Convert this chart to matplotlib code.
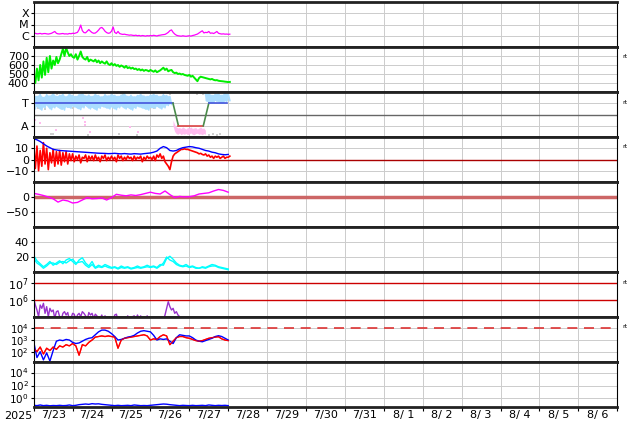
import matplotlib
matplotlib.use("Agg")
import matplotlib.pyplot as plt
import numpy as np

# time axis: days since 2025-07-23 00:00
day_labels = ["7/23", "7/24", "7/25", "7/26", "7/27", "7/28", "7/29", "7/30",
              "7/31", "8/ 1", "8/ 2", "8/ 3", "8/ 4", "8/ 5", "8/ 6"]

# X-ray flux, log10 W/m2, hourly
xray = [-5.80, -5.78, -5.83, -5.82, -5.79, -5.84, -5.81, -5.80, -5.83, -5.85, -5.82, -5.78,
        -5.70, -5.62, -5.78, -5.83, -5.84, -5.82, -5.80, -5.84, -5.83, -5.85, -5.80, -5.82,
        -5.78, -5.80, -5.75, -5.70, -5.45, -5.05, -5.55, -5.72, -5.74, -5.60, -5.45, -5.60,
        -5.72, -5.78, -5.76, -5.65, -5.50, -5.32, -5.26, -5.40, -5.60, -5.72, -5.78, -5.75,
        -5.60, -5.22, -5.70, -5.80, -5.62, -5.80, -5.85, -5.88, -5.86, -5.90, -5.92, -5.95,
        -5.93, -5.96, -5.98, -5.95, -6.00, -5.97, -6.02, -5.98, -6.00, -6.03, -5.99, -6.01,
        -5.98, -6.00, -5.96, -5.99, -6.02, -5.97, -5.95, -5.92, -5.90, -5.88, -5.80, -5.70,
        -5.55, -5.48, -5.70, -5.85, -5.95, -6.00, -6.02, -6.04, -6.00, -6.03, -6.05, -6.02,
        -6.00, -6.03, -5.98, -5.95, -5.90, -5.85, -5.75, -5.65, -5.56, -5.75, -5.70, -5.72,
        -5.62, -5.78, -5.75, -5.80, -5.72, -5.62, -5.78, -5.82, -5.85, -5.83, -5.86, -5.85,
        -5.87, -5.86]

# solar wind speed km/s, hourly
speed = [470, 400, 560, 430, 600, 460, 640, 490, 680, 520, 700, 560, 650, 600, 690, 620, 660,
         720, 780, 700, 790, 740, 700, 720, 690,
         680, 720, 660, 700, 750, 690, 670, 660, 690, 640, 660, 650,
         640, 660, 630, 650, 620, 640, 625, 615, 640, 610, 600, 620,
         595, 610, 590, 600, 580, 595, 585, 570, 590, 565, 575, 560,
         570, 555, 560, 545, 555, 540, 550, 535, 545, 540, 530, 545,
         535, 525, 540, 520, 530, 540, 555, 570, 545, 560, 530, 540,
         545, 520, 510, 515, 500, 505, 495, 500, 490, 485, 480, 490,
         470, 480, 460, 440, 420, 455, 470, 465, 460, 455, 450, 445,
         440, 445, 435, 430, 432, 425, 422, 420, 418, 415, 413, 410, 412]

# IMF sector: polarity line (T=+0.5, A=-0.5)
pol_t = [0.0, 3.58, 3.72, 4.36, 4.50, 4.97]
pol_v = [0.5, 0.5, -0.5, -0.5, 0.5, 0.5]
pol_colors = ["#4455dd", "#4a8a4a", "#dd4444", "#4a8a4a", "#4455dd"]
# toward-sector angle band, 2-hourly (nan = absent)
tow_hi = [0.85, 0.8, 0.9, 0.75, 0.88, 0.82, 0.95, 0.8, 0.85, 0.9, 0.78, 0.92,
          0.85, 0.8, 0.88, 0.95, 0.82, 0.86, 0.8, 0.9, 0.84, 0.78, 0.88, 0.82,
          0.9, 0.85, 0.8, 0.86, 0.92, 0.8, 0.85, 0.78, 0.84, 0.9, 0.82, 0.8,
          0.86, 0.9, 0.85, 0.8, 0.88, 0.84, 0.8] + [np.nan] * 10 + \
         [0.9, 0.95, 0.85, 0.9, 0.92, 0.85, 0.95, 0.9]
tow_lo = [0.25, 0.35, 0.2, 0.3, 0.4, 0.22, 0.3, 0.35, 0.25, 0.2, 0.32, 0.28,
          0.35, 0.3, 0.22, 0.3, 0.38, 0.25, 0.3, 0.2, 0.28, 0.35, 0.3, 0.25,
          0.32, 0.22, 0.3, 0.36, 0.25, 0.3, 0.2, 0.28, 0.35, 0.3, 0.25, 0.2,
          0.3, 0.28, 0.35, 0.25, 0.3, 0.4, 0.45] + [np.nan] * 10 + \
         [0.6, 0.55, 0.5, 0.6, 0.55, 0.5, 0.58, 0.62]
# away-sector band, hourly from 3.58 d
away_hi = [-0.25, -0.45, -0.55, -0.6, -0.58, -0.62, -0.55, -0.6, -0.65, -0.58, -0.6,
           -0.55, -0.62, -0.6, -0.58, -0.65, -0.6, -0.55, -0.62, -0.6, -0.7]
away_lo = [-0.5, -0.75, -0.85, -0.88, -0.82, -0.9, -0.85, -0.88, -0.84, -0.9, -0.86,
           -0.82, -0.88, -0.9, -0.85, -0.83, -0.88, -0.86, -0.9, -0.85, -0.88]
pink_t = [0.03, 0.16, 0.57, 1.27, 1.31, 1.32, 1.45, 2.48, 2.68]
pink_v = [-0.24, -0.38, -0.69, -0.16, -0.47, -0.33, -0.76, -0.54, -0.76]
gray_t = [0.42, 0.5, 0.6, 1.35, 1.45, 1.6, 2.15, 2.25, 2.3, 3.45, 3.5, 0.1, 0.3, 1.0,
          2.9, 3.1, 0.45, 0.5, 1.4, 2.2, 2.65, 4.5, 4.6, 4.7, 4.8, 4.2, 4.3, 4.35]
gray_v = [0.95, 0.97, 0.93, 0.95, 0.97, 0.94, 0.95, 0.97, 0.93, 0.95, 0.9, 0.3, 0.25, 0.28,
          0.3, 0.28, -0.85, -0.88, -0.9, -0.88, -0.9, -0.9, -0.88, -0.9, -0.87, 0.92, 0.95, 0.9]

# IMF Bt (2-hourly) and Bz (hourly), nT
bt = [18.5, 17.5, 16, 14, 12, 10.5, 9, 8.5, 8, 7.8, 7.6, 7.4,
      7.2, 7.0, 6.8, 6.6, 6.4, 6.2, 6.0, 5.8, 5.6, 5.5, 5.4, 5.2,
      5.3, 5.5, 5.2, 5.0, 5.3, 5.0, 4.8, 5.2, 5.0, 4.8, 5.2, 5.5,
      5.8, 6.5, 7.5, 10, 11.5, 10.5, 8, 7.5, 8, 9.5, 10.5, 11,
      11.5, 11.2, 10.5, 10, 9, 8, 7.5, 6.5, 6, 5, 4.5, 4.2, 4.5]
bz = [14, -8, 12, -10, 8, -6, 15, -4, 10, -9, 6, -3,
      9, -6, 7, -4, 8, -5, 6, -2, 7, -4, 5, -1,
      5, -2, 3, 0, 4, -3, 2, 1, 4, -2, 3, 0,
      3, -1, 4, 0, 2, -2, 3, 1, 4, -1, 2, 0,
      3, 0, 2, -2, 4, 1, 3, -1, 2, 0, 3, 1,
      2, -1, 3, 0, 2, 1, 3, -2, 2, 0, 3, 1,
      2, 0, 3, -1, 4, 2, 5, 1, 3, -2, -4, -6,
      -9, -2, 3, 5, 6, 7, 8, 9, 9, 9.5, 9, 9,
      8.5, 8, 7.5, 7, 6.5, 6, 5, 5.5, 4.5, 4, 5, 3,
      4, 2, 3, 1, 3, 2, 3, 1, 2, 3, 1, 2, 2, 3]

# Dst nT, 3-hourly
dst = [12, 9, 5, 0, -6, -17, -10, -13, -20, -18, -10, -2, -6, -5, -3, -10, -2, 9, 6, 4,
       7, 5, 8, 12, 16, 12, 10, 20, 8, -2, 2, 0, 1, 4, 10, 12, 14, 20, 25, 22, 16]

# density, two traces, 2-hourly
dens1 = [22, 15, 11, 7, 10, 14, 9, 12, 15, 11, 16, 18,
         14, 10, 16, 19, 12, 8, 14, 6, 9, 7, 10, 8,
         6, 7, 5, 8, 6, 7, 5, 6, 8, 6, 7, 9,
         7, 8, 6, 10, 9, 18, 21, 17, 12, 9, 8, 10,
         7, 8, 6, 5, 7, 6, 8, 10, 9, 7, 6, 5, 4]
dens2 = [18, 12, 9, 5, 8, 12, 12, 10, 13, 14, 12, 15,
         17, 12, 13, 14, 9, 6, 10, 5, 7, 6, 8, 6,
         5, 6, 4, 6, 5, 6, 4, 5, 6, 5, 6, 7,
         6, 7, 5, 8, 12, 20, 16, 14, 10, 8, 7, 8,
         6, 7, 5, 5, 6, 5, 7, 8, 8, 6, 5, 4, 3]

# electron flux log10, hourly
elec = [6.1, 5.7, 5.4, 5.0, 5.7, 5.5, 5.8, 5.2, 5.6, 5.0, 5.5, 5.3,
        5.4, 4.9, 5.3, 5.35, 5.0, 4.8, 5.2, 5.3, 5.1, 5.25, 4.8, 4.9,
        5.2, 5.15, 4.8, 5.1, 5.2, 5.0, 5.3, 5.2, 5.05, 4.8, 5.25, 5.1,
        5.2, 4.9, 5.15, 5.05, 4.8, 4.9, 5.1, 4.8, 5.05, 4.8, 4.8, 5.0,
        4.8, 4.8, 5.1, 5.15, 4.8, 4.8, 4.8, 4.8, 4.8, 4.8, 5.05, 4.8,
        4.8, 5.0, 5.05, 4.8, 5.1, 4.9, 5.05, 4.8, 4.9, 4.8, 5.05, 4.8,
        4.8, 4.8, 4.8, 4.8, 4.8, 4.8, 4.8, 4.9, 4.8, 5.1, 5.5, 5.9,
        5.6, 5.4, 5.5, 5.2, 5.3, 5.1, 5.0]

# panel 8 fluxes log10, 2-hourly
flux_b = [2.85, 1.5, 2.0, 1.3, 1.9, 1.2, 2.1, 2.9, 3.0, 2.95, 3.05, 3.0,
          2.8, 2.7, 2.75, 2.9, 3.05, 3.15, 3.2, 3.45, 3.7, 3.85, 3.85, 3.75,
          3.55, 3.3, 3.0, 3.05, 3.15, 3.25, 3.3, 3.4, 3.6, 3.75, 3.8, 3.75,
          3.7, 3.4, 3.0, 3.1, 3.05, 3.1, 2.9, 2.7, 3.2, 3.45, 3.4, 3.35,
          3.35, 3.2, 3.0, 2.9, 2.85, 2.95, 3.05, 3.15, 3.3, 3.37, 3.3, 3.15, 3.0]
flux_r = [2.3, 2.0, 2.4, 1.8, 2.3, 2.1, 2.4, 2.2, 2.5, 2.4, 2.6, 2.5,
          2.7, 2.5, 1.7, 2.6, 2.5, 2.8, 3.0, 3.25, 3.3, 3.35, 3.3, 3.35,
          3.3, 3.25, 2.3, 3.0, 3.15, 3.2, 3.25, 3.3, 3.35, 3.4, 3.45, 3.35,
          3.0, 3.1, 3.05, 3.3, 3.45, 3.35, 2.6, 2.9, 3.2, 3.3, 3.3, 3.2,
          3.15, 3.05, 2.95, 2.9, 2.95, 3.05, 3.15, 3.2, 3.25, 3.28, 3.1, 3.0, 2.95]

# panel 9 flux log10, 2-hourly
flux9 = [-1.05, -1.1, -1.0, -1.1, -1.05, -1.12, -1.08, -1.1, -1.05, -1.1, -1.08, -1.0,
         -1.1, -1.05, -0.95, -0.9, -0.85, -0.9, -0.8, -0.85, -0.82, -0.9, -0.95, -1.0,
         -1.05, -1.1, -1.05, -1.1, -1.08, -1.05, -1.1, -1.0, -1.05, -1.1, -1.08, -1.1,
         -1.05, -1.0, -0.95, -0.9, -0.85, -0.88, -0.95, -1.0, -1.05, -1.1, -1.05, -1.08,
         -1.1, -1.05, -1.1, -1.08, -1.05, -1.1, -1.0, -1.05, -1.1, -1.05, -1.08, -1.05, -1.1]


def tgrid(vals, hours, start=0.0):
    return start + np.arange(len(vals)) * hours / 24.0


W, H = 634, 424
x0, x1 = 33.7, 617.3
ph = 45
fig = plt.figure(figsize=(W / 100, H / 100), dpi=100)
axes = []
for i in range(9):
    top = 2 + ph * i
    ax = fig.add_axes([x0 / W, 1 - (top + ph) / H, (x1 - x0) / W, ph / H])
    ax.set_xlim(0, 15)
    ax.set_xticks(range(16))
    ax.tick_params(axis="x", length=0, labelbottom=False)
    ax.tick_params(axis="y", length=2, pad=1.5, labelsize=8)
    ax.grid(True, color="#cccccc", lw=0.7)
    ax.set_axisbelow(True)
    for s in ("top", "bottom"):
        ax.spines[s].set_linewidth(2.0)
        ax.spines[s].set_color("#222222")
    for s in ("left", "right"):
        ax.spines[s].set_linewidth(0.8)
    axes.append(ax)

# 1: X-ray
ax = axes[0]
ax.set_yscale("log")
ax.plot(tgrid(xray, 1), 10 ** np.array(xray), color="#ff00ff", lw=0.9)
ax.set_ylim(1e-7, 1e-3)
ax.set_yticks([1e-4, 1e-5, 1e-6], ["X", "M", "C"])
ax.minorticks_off()

# 2: speed
ax = axes[1]
ax.plot(tgrid(speed, 1), speed, color="#00ee00", lw=1.4)
ax.set_ylim(300, 800)
ax.set_yticks([400, 500, 600, 700])

# 3: sector
ax = axes[2]
ax.set_ylim(-1, 1)
ax.set_yticks([0.5, -0.5], ["T", "A"])
ax.axhline(0, color="#666666", lw=1)
ax.scatter(gray_t, gray_v, s=3, marker="s", color="#cfcfcf", lw=0)
tt = tgrid(tow_hi, 2)
ax.fill_between(tt, tow_lo, tow_hi, color="#aaddff", lw=0)
zig_t = np.column_stack([tt, tt + 1 / 24]).ravel()
zig_v = np.column_stack([tow_hi, tow_lo]).ravel()
ax.plot(zig_t, zig_v, color="#aaddff", lw=1.2)
ta = tgrid(away_hi, 1, 3.58)
ax.fill_between(ta, away_lo, away_hi, color="#ffbbee", lw=0)
ax.scatter(pink_t, pink_v, s=4, marker="s", color="#ffbbee", lw=0)
for k in range(len(pol_t) - 1):
    ax.plot(pol_t[k:k + 2], pol_v[k:k + 2], color=pol_colors[k], lw=1.2)

# 4: Bt / Bz
ax = axes[3]
ax.set_ylim(-20, 20)
ax.set_yticks([10, 0, -10], ["10", "0", "\u221210"])
ax.axhline(0, color="#aa0000", lw=1)
ax.plot(tgrid(bz, 1), bz, color="#ff0000", lw=1.2)
ax.plot(tgrid(bt, 2), bt, color="#0000ff", lw=1.0)

# 5: Dst
ax = axes[4]
ax.set_ylim(-100, 50)
ax.set_yticks([0, -50], ["0", "\u221250"])
ax.axhline(0, color="#cc6666", lw=2.5)
ax.plot(tgrid(dst, 3), dst, color="#ff00ff", lw=1.0)

# 6: density
ax = axes[5]
ax.set_ylim(0, 60)
ax.set_yticks([20, 40])
ax.plot(tgrid(dens1, 2), dens1, color="#00ffff", lw=1.0)
ax.plot(tgrid(dens2, 2), dens2, color="#00ffff", lw=1.0)

# 7: electron flux
ax = axes[6]
ax.set_yscale("log")
ax.set_ylim(10 ** 4.98, 10 ** 7.68)
ax.set_yticks([1e6, 1e7], ["$10^{6}$", "$10^{7}$"])
ax.minorticks_off()
ax.axhline(1e7, color="#cc0000", lw=1)
ax.axhline(1e6, color="#cc0000", lw=1)
ax.plot(tgrid(elec, 1), 10 ** np.array(elec), color="#9933cc", lw=1.0)

# 8: proton-like flux
ax = axes[7]
ax.set_yscale("log")
ax.set_ylim(10 ** 1.12, 10 ** 4.97)
ax.set_yticks([1e2, 1e3, 1e4], ["$10^{2}$", "$10^{3}$", "$10^{4}$"])
ax.tick_params(axis="y", labelsize=7.2)
ax.minorticks_off()
ax.axhline(1e4, color="#dd3333", lw=1.2, dashes=(6, 4))
ax.plot(tgrid(flux_r, 2), 10 ** np.array(flux_r), color="#ff0000", lw=1.0)
ax.plot(tgrid(flux_b, 2), 10 ** np.array(flux_b), color="#0000ff", lw=1.0)
ax.plot(tgrid(flux_r, 2), 10 ** np.array(flux_r), color="#ff0000", lw=0.8, alpha=0.8)

# 9: flux
ax = axes[8]
ax.set_yscale("log")
ax.set_ylim(10 ** -1.31, 10 ** 5.62)
ax.set_yticks([1e0, 1e2, 1e4], ["$10^{0}$", "$10^{2}$", "$10^{4}$"])
ax.tick_params(axis="y", labelsize=7.5)
ax.minorticks_off()
ax.plot(tgrid(flux9, 2), 10 ** np.array(flux9), color="#0000ff", lw=1.0)

# bottom date axis
ax.tick_params(axis="x", which="major", length=3, direction="out")
ax.set_xticks(np.arange(15) + 0.5, day_labels, minor=True)
ax.tick_params(axis="x", which="minor", length=0, labelsize=8, pad=2)
fig.text(18 / W, 1 - 416 / H, "2025", fontsize=8, ha="center", va="center")

for top in (47, 92, 137, 272, 317):
    fig.text(622 / W, 1 - (top + 10) / H, "rt", fontsize=4.5, va="center")

fig.savefig("out.png", dpi=100)
